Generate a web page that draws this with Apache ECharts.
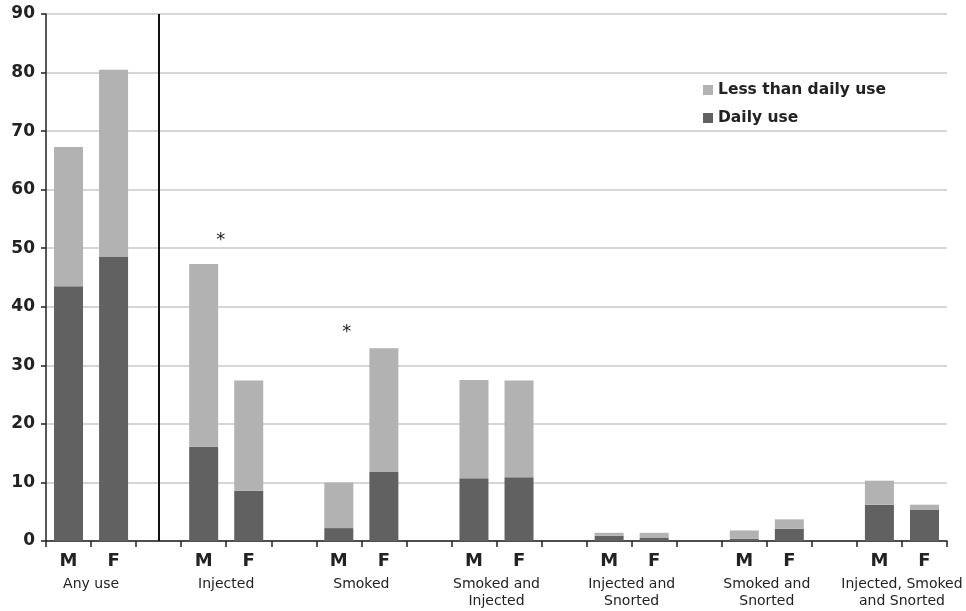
<!DOCTYPE html>
<html>
<head>
<meta charset="utf-8">
<script src="https://cdn.jsdelivr.net/npm/echarts@6/dist/echarts.min.js"></script>
<style>
html,body{margin:0;padding:0;background:#fff;}
#chart{width:966px;height:611px;}
</style>
</head>
<body>
<div id="chart"></div>
<script>
// Slots along the x axis (blank slots separate the groups)
var sexLabels = ['M','F','', 'M','F','', 'M','F','', 'M','F','', 'M','F','', 'M','F','', 'M','F'];
var groupNames = ['Any use','Injected','Smoked','Smoked and\nInjected','Injected and\nSnorted','Smoked and\nSnorted','Injected, Smoked\nand Snorted'];
var groupCenters = [1, 4, 7, 10, 13, 16, 19];
var dailyUse = [43.5, 48.6, null, 16.1, 8.6, null, 2.2, 11.8, null, 10.7, 10.9, null, 0.9, 0.6, null, 0.4, 2.1, null, 6.2, 5.3];
var lessThanDaily = [23.8, 31.9, null, 31.2, 18.8, null, 7.8, 21.1, null, 16.8, 16.5, null, 0.5, 0.8, null, 1.4, 1.6, null, 4.1, 0.9];
var yTicks = [0, 10, 20, 30, 40, 50, 60, 70, 80, 90];
var asterisks = [[3, 51.3, 17], [6, 35.6, 8]];

var chart = echarts.init(document.getElementById('chart'));
var groupLabelMap = {};
groupCenters.forEach(function (c, i) { groupLabelMap[c] = groupNames[i]; });

chart.setOption({
  animation: false,
  backgroundColor: '#ffffff',
  grid: {left: 46, right: 19, top: 14, bottom: 70},
  legend: {
    orient: 'vertical', left: 698, top: 77,
    itemWidth: 10, itemHeight: 10, itemGap: 12,
    icon: 'rect',
    data: ['Less than daily use', 'Daily use'],
    textStyle: {fontFamily: 'DejaVu Sans', fontWeight: 'bold', fontSize: 15.5, color: '#222'}
  },
  xAxis: [{
    type: 'category',
    data: sexLabels,
    boundaryGap: true,
    axisLine: {lineStyle: {color: '#222', width: 1.5}},
    axisTick: {show: true, alignWithLabel: false, length: 6, lineStyle: {color: '#222', width: 1.5}},
    axisLabel: {interval: 0, margin: 11, fontFamily: 'DejaVu Sans', fontWeight: 'bold', fontSize: 18, color: '#222'},
    splitLine: {show: false}
  }, {
    type: 'value',
    position: 'bottom',
    min: 0, max: 20, interval: 1,
    axisLine: {show: false}, axisTick: {show: false}, splitLine: {show: false},
    axisLabel: {
      margin: 35, fontFamily: 'DejaVu Sans', fontSize: 14, color: '#222', lineHeight: 17,
      showMinLabel: true, showMaxLabel: true,
      formatter: function (v) { return groupLabelMap[v] || ''; }
    }
  }],
  yAxis: {
    type: 'value', min: 0, max: 90, interval: 10,
    axisLine: {show: true, lineStyle: {color: '#222', width: 1.5}},
    axisTick: {show: true, length: 5, lineStyle: {color: '#222', width: 1.5}},
    axisLabel: {
      margin: 11, fontFamily: 'DejaVu Sans', fontWeight: 'bold', fontSize: 17, color: '#222',
      formatter: function (v) { return yTicks.indexOf(v) >= 0 ? String(v) : ''; }
    },
    splitLine: {show: true, lineStyle: {color: '#c9c9c9', width: 1.5}}
  },
  series: [{
    name: 'Daily use', type: 'bar', stack: 'use',
    data: dailyUse, barWidth: 29,
    itemStyle: {color: '#616161'},
    markLine: {
      silent: true, symbol: ['none', 'none'],
      label: {show: false},
      lineStyle: {color: '#111', width: 2, type: 'solid'},
      data: [{xAxis: 2}]
    }
  }, {
    name: 'Less than daily use', type: 'bar', stack: 'use',
    data: lessThanDaily, barWidth: 29,
    itemStyle: {color: '#b2b2b2'},
    markPoint: {
      symbol: 'circle', symbolSize: 0,
      label: {show: true, formatter: '*', position: 'inside', fontSize: 18, color: '#222', fontFamily: 'DejaVu Sans'},
      data: asterisks.map(function (a) {
        return {coord: [a[0], a[1]], label: {offset: [a[2], 0]}};
      })
    }
  }]
});
</script>
</body>
</html>
